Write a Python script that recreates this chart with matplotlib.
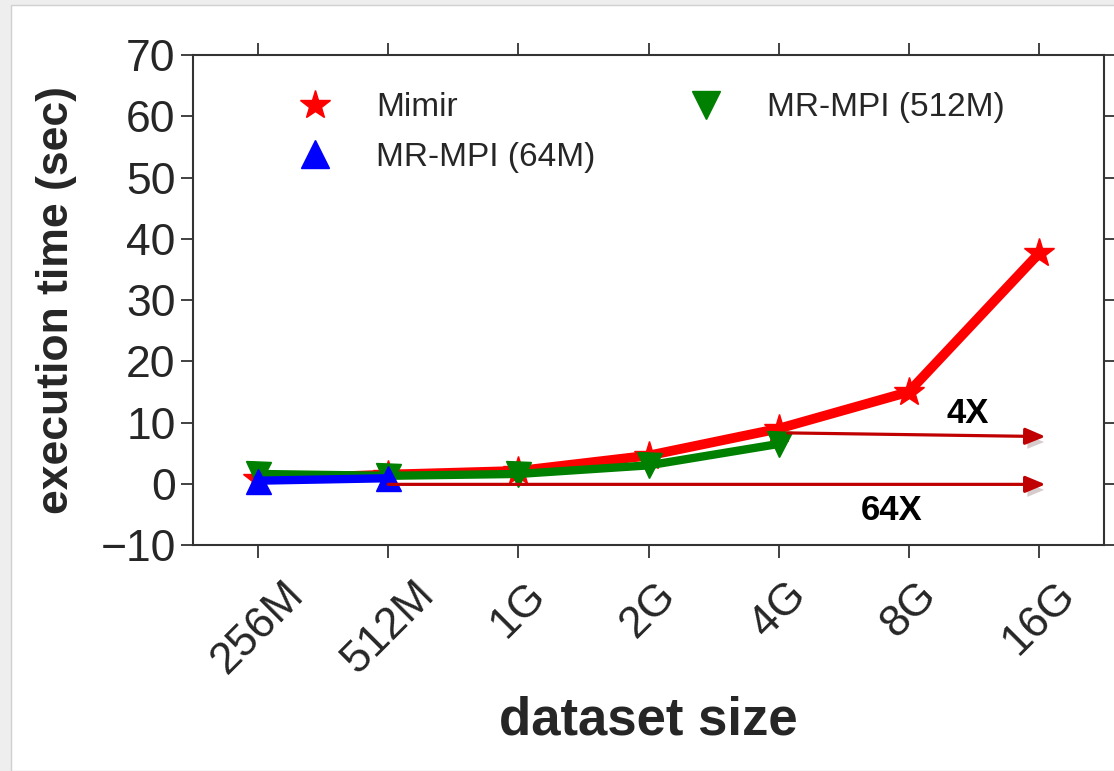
import matplotlib
matplotlib.use("Agg")
import matplotlib.pyplot as plt
import matplotlib.patheffects as pe
from matplotlib.lines import Line2D
from matplotlib.patches import Rectangle

sizes = ["256M", "512M", "1G", "2G", "4G", "8G", "16G"]
mimir = [0.7, 1.5, 2.1, 4.6, 9.0, 15.0, 37.6]
mrmpi_512 = [1.6, 1.3, 1.6, 3.0, 6.5]
mrmpi_64 = [0.5, 0.9]

plt.rcParams["font.family"] = ["Liberation Sans", "DejaVu Sans"]
txt = "#262626"

fig = plt.figure(figsize=(11.14, 7.71), dpi=100)
fig.patch.set_facecolor("#eeeeee")
fig.patches.append(Rectangle((11 / 1114, 0), 1, 1 - 5 / 771, transform=fig.transFigure,
                             facecolor="white", edgecolor="#d0d0d0", lw=1, zorder=-5))

ax = fig.add_axes([193 / 1114, 1 - 545 / 771, (1104 - 193) / 1114, (545 - 55) / 771])
ax.set_facecolor("white")

x = list(range(len(sizes)))
ax.plot(x, mimir, color="red", lw=7, marker="*", ms=22, zorder=3)
ax.plot(x[:len(mrmpi_512)], mrmpi_512, color="green", lw=6, marker="v", ms=18, zorder=4)
ax.plot(x[:len(mrmpi_64)], mrmpi_64, color="blue", lw=6, marker="^", ms=18, zorder=5)

# speedup arrows
arrow_kw = dict(arrowstyle="-|>,head_length=1.2,head_width=0.5", color="#c00000", lw=2.3,
                shrinkA=0, shrinkB=0)
ann1 = ax.annotate("", xy=(6.05, 7.7), xytext=(4.07, 8.3), arrowprops=arrow_kw, zorder=6)
ann2 = ax.annotate("", xy=(6.05, -0.1), xytext=(1.0, -0.1), arrowprops=arrow_kw, zorder=6)
for a in (ann1, ann2):
    a.arrow_patch.set_path_effects([pe.SimplePatchShadow(offset=(2, -4), alpha=0.2), pe.Normal()])

ax.text(5.45, 11.4, "4X", fontsize=25, fontweight="bold", ha="center", va="center", color="black")
ax.text(4.87, -4.3, "64X", fontsize=25, fontweight="bold", ha="center", va="center", color="black")

ax.set_xlim(-0.5, 6.5)
ax.set_ylim(-10, 70)
ax.set_xticks(x)
ax.set_xticklabels(sizes, rotation=45, color=txt)
ax.set_yticks(range(-10, 71, 10))
ax.tick_params(axis="both", direction="out", length=9, width=1.3, color="#333333",
               labelsize=32, labelcolor=txt, top=True, right=True)
ax.tick_params(axis="x", pad=12)
for s in ax.spines.values():
    s.set_color("#333333")
    s.set_linewidth(1.5)

ax.set_xlabel("dataset size", fontsize=38, fontweight="bold", color=txt, labelpad=10)
ax.set_ylabel("execution time (sec)", fontsize=32, fontweight="bold", color=txt, labelpad=17)

handles = [
    Line2D([], [], color="red", marker="*", ms=22, ls="none"),
    Line2D([], [], color="blue", marker="^", ms=20, ls="none"),
    Line2D([], [], color="green", marker="v", ms=20, ls="none"),
]
labels = ["Mimir", "MR-MPI (64M)", "MR-MPI (512M)"]
leg = ax.legend(handles, labels, ncol=2, frameon=False, loc="upper left",
                bbox_to_anchor=(0.064, 0.985), handletextpad=0.85,
                columnspacing=2.3, labelspacing=0.55, fontsize=24)
for t in leg.get_texts():
    t.set_color(txt)

fig.savefig("out.png", dpi=100, facecolor=fig.get_facecolor())
